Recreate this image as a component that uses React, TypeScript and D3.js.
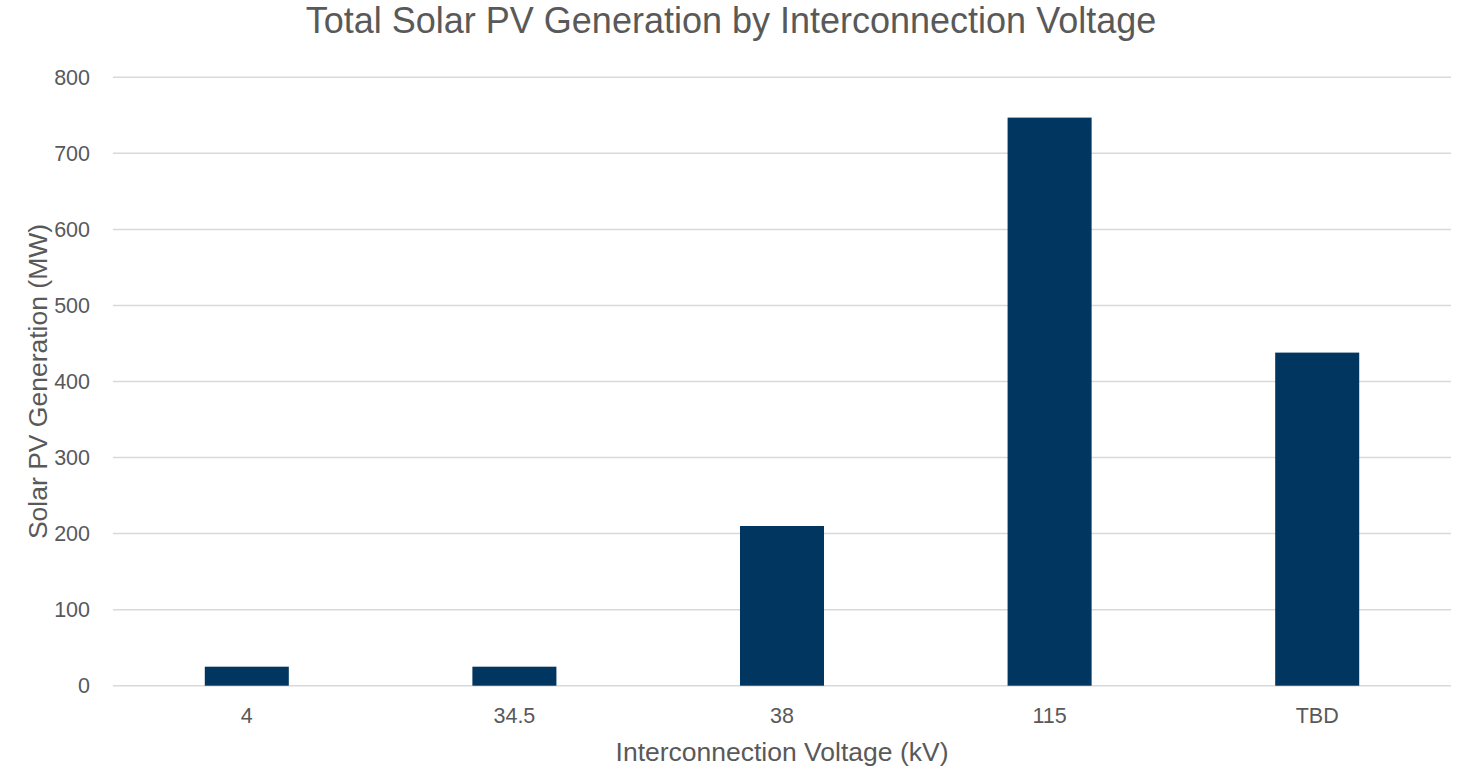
import React from "react";
import * as d3 from "d3";

const categories = ["4", "34.5", "38", "115", "TBD"];
const values = [25, 25, 210, 747, 438];
const yTicks = [0, 100, 200, 300, 400, 500, 600, 700, 800];

const W = 1463;
const H = 767;
const M = { left: 113, right: 12, top: 77.3, bottom: 81.3 };
const FONT = "'Liberation Sans', Arial, sans-serif";
const TEXT = "#595959";

export default function App() {
  const x = d3
    .scaleBand<string>()
    .domain(categories)
    .range([M.left, W - M.right])
    .paddingInner(0.686)
    .paddingOuter(0.343);
  const y = d3.scaleLinear().domain([0, 800]).range([H - M.bottom, M.top]);
  const plotCx = (M.left + W - M.right) / 2;
  const plotCy = (M.top + H - M.bottom) / 2;

  return (
    <svg
      width={W}
      height={H}
      style={{ position: "absolute", left: 0, top: 0, background: "#fff" }}
      fontFamily={FONT}
    >
      <rect x={0} y={0} width={W} height={H} fill="#fff" />
      <text x={731} y={33} textAnchor="middle" fontSize={36} fill={TEXT}>
        Total Solar PV Generation by Interconnection Voltage
      </text>
      {yTicks.map((t) => (
        <g key={t}>
          <line
            x1={M.left}
            x2={W - M.right}
            y1={y(t)}
            y2={y(t)}
            stroke="#d9d9d9"
            strokeWidth={1.5}
          />
          <text
            x={90}
            y={y(t)}
            dy="0.35em"
            textAnchor="end"
            fontSize={21.5}
            fill={TEXT}
          >
            {t}
          </text>
        </g>
      ))}
      {categories.map((c, i) => (
        <g key={c}>
          <rect
            x={x(c)!}
            y={y(values[i])}
            width={x.bandwidth()}
            height={y(0) - y(values[i])}
            fill="#003660"
          />
          <text
            x={x(c)! + x.bandwidth() / 2}
            y={723}
            textAnchor="middle"
            fontSize={21.5}
            fill={TEXT}
          >
            {c}
          </text>
        </g>
      ))}
      <text x={plotCx} y={761} textAnchor="middle" fontSize={26.5} fill={TEXT}>
        Interconnection Voltage (kV)
      </text>
      <text
        transform={`translate(47,${plotCy}) rotate(-90)`}
        textAnchor="middle"
        fontSize={26.5}
        fill={TEXT}
      >
        Solar PV Generation (MW)
      </text>
    </svg>
  );
}
